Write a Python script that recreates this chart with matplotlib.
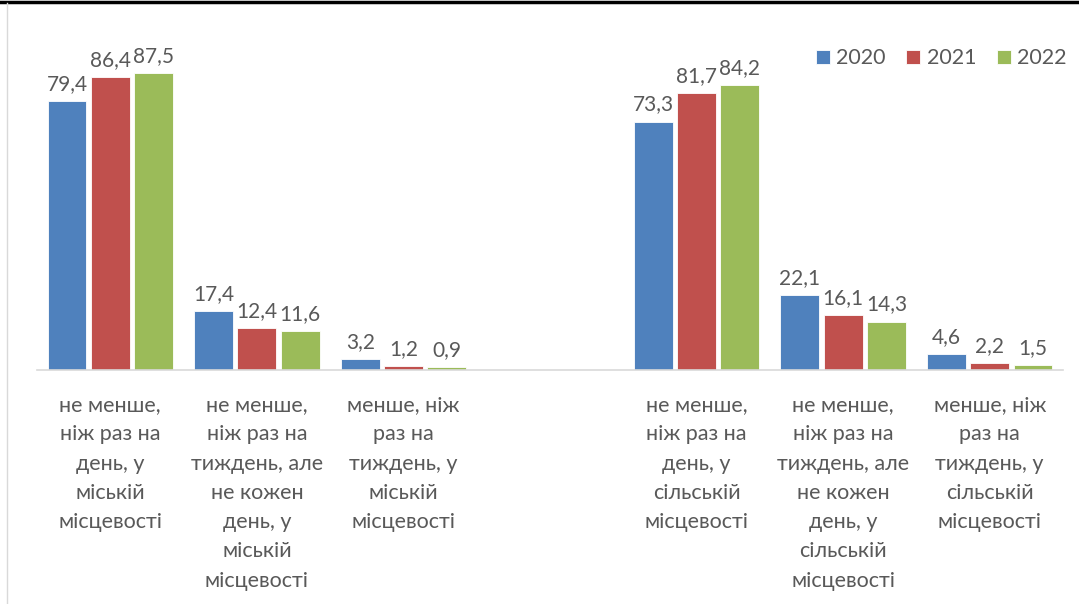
import matplotlib.pyplot as plt
import numpy as np
from matplotlib.lines import Line2D

plt.rcParams['font.family'] = ['Lato', 'DejaVu Sans']

# Дані
categories = [
    "не менше,\nніж раз на\nдень, у\nміській\nмісцевості",
    "не менше,\nніж раз на\nтиждень, але\nне кожен\nдень, у\nміській\nмісцевості",
    "менше, ніж\nраз на\nтиждень, у\nміській\nмісцевості",
    "",
    "не менше,\nніж раз на\nдень, у\nсільській\nмісцевості",
    "не менше,\nніж раз на\nтиждень, але\nне кожен\nдень, у\nсільській\nмісцевості",
    "менше, ніж\nраз на\nтиждень, у\nсільській\nмісцевості",
]
years = ["2020", "2021", "2022"]
v2020 = [79.4, 17.4, 3.2, None, 73.3, 22.1, 4.6]
v2021 = [86.4, 12.4, 1.2, None, 81.7, 16.1, 2.2]
v2022 = [87.5, 11.6, 0.9, None, 84.2, 14.3, 1.5]
colors = ["#4f81bd", "#c0504d", "#9bbb59"]
text_color = "#595959"

W, H = 1079, 604
fig = plt.figure(figsize=(W / 100, H / 100), dpi=100)
ax = fig.add_axes([37 / W, (H - 370) / H, (1063 - 37) / W, (370 - 31) / H])

x = np.arange(len(categories))
bw = 0.265
step = 0.295
for i, (vals, col, yr) in enumerate(zip([v2020, v2021, v2022], colors, years)):
    xs = [xi + (i - 1) * step for xi, v in zip(x, vals) if v is not None]
    hs = [v for v in vals if v is not None]
    bars = ax.bar(xs, hs, width=bw, color=col, label=yr, edgecolor="white", linewidth=0.6)
    for b, v in zip(bars, hs):
        ax.annotate(f"{v:.1f}".replace(".", ","), (b.get_x() + b.get_width() / 2, v),
                    xytext=(0, 5), textcoords="offset points", ha="center", va="bottom",
                    fontsize=15, color=text_color)

ax.set_xlim(-0.5, len(categories) - 0.5)
ax.set_ylim(0, 100)
ax.set_yticks([])
ax.set_xticks(x)
ax.set_xticklabels(categories, fontsize=15.5, color=text_color, linespacing=1.58)
ax.tick_params(axis="x", length=0, pad=18)
for s in ["top", "right", "left"]:
    ax.spines[s].set_visible(False)
ax.spines["bottom"].set_color("#d9d9d9")
ax.spines["bottom"].set_linewidth(1.2)

leg = ax.legend(loc="upper right", bbox_to_anchor=(1086 / W, (H - 29) / H),
                bbox_transform=fig.transFigure, ncol=3, frameon=False,
                fontsize=15.5, handlelength=0.65, handleheight=0.65,
                handletextpad=0.3, columnspacing=0.95)
for t in leg.get_texts():
    t.set_color(text_color)

# рамка
fig.add_artist(Line2D([0, 1], [1 - 1.5 / H, 1 - 1.5 / H], transform=fig.transFigure,
                      color="black", linewidth=2.5))
fig.add_artist(Line2D([7 / W, 7 / W], [0, 1 - 3 / H], transform=fig.transFigure,
                      color="#d9d9d9", linewidth=1))

fig.savefig("out.png", dpi=100)
